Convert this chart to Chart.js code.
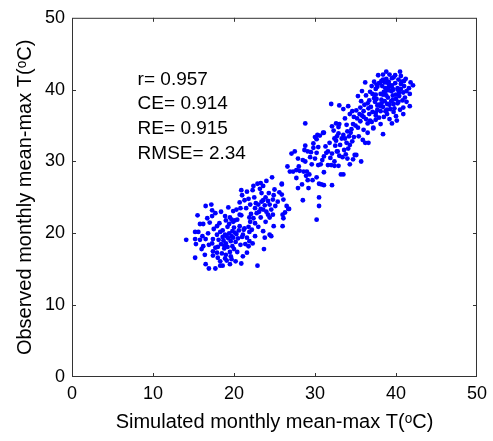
<!DOCTYPE html>
<html>
<head>
<meta charset="utf-8">
<script src="https://cdn.jsdelivr.net/npm/chart.js@4.4.1/dist/chart.umd.min.js"></script>
<style>
  body { margin: 0; background: #fff; }
  canvas { display: block; }
</style>
</head>
<body>
<canvas id="scatter" width="493" height="441"></canvas>
<script>
// simulated vs observed monthly mean-max T as [sim, obs]
var lowerCluster = [
  [14.1,19.1],[15.2,16.6],[15.2,20.2],[15.6,20.2],[15.2,19.2],[15.8,19.1],[15.3,18.5],[16.0,17.8],[16.2,18.2],[16.4,17.0],
  [15.8,21.3],[16.2,21.3],[16.5,23.8],[16.7,22.1],[17.3,23.2],[17.3,22.4],[17.7,22.8],[16.5,19.2],[17.3,18.6],[17.4,19.2],
  [17.7,18.0],[17.4,17.5],[17.4,16.9],[17.9,17.3],[18.0,16.6],[16.5,15.7],[16.9,15.1],[17.7,15.1],[18.3,15.5],[18.6,15.5],
  [19.1,16.2],[19.7,16.4],[18.3,20.2],[17.9,19.8],[18.6,20.4],[18.9,22.4],[19.0,21.8],[19.5,22.2],[19.7,21.9],[19.9,21.6],
  [20.1,21.8],[20.4,21.9],[19.9,23.1],[20.3,23.3],[20.7,24.3],[20.8,23.5],[18.7,19.0],[19.0,18.6],[19.3,19.3],[19.6,18.9],
  [19.9,19.4],[20.2,18.8],[18.9,19.8],[19.4,20.0],[19.8,20.3],[20.3,19.9],[20.6,20.4],[20.0,17.8],[19.5,17.4],[18.8,17.9],
  [18.4,18.5],[19.2,18.1],[19.0,17.0],[19.6,16.8],[18.5,17.2],[20.4,17.4],[20.8,18.4],[21.0,19.5],[20.7,21.0],[18.2,21.4],
  [17.5,20.6],[16.8,20.0],[16.1,19.6],[17.0,21.5],[17.9,21.0],[19.5,15.7],[18.9,16.5],[20.2,16.1],[21.1,16.8],[17.2,24.0],
  [15.5,22.5],[19.3,23.6],[18.4,23.0],[21.3,20.7],[20.0,20.8],[19.2,20.9],[18.6,19.5],[19.7,19.6],[20.5,19.3],[21.4,18.5],
  [20.9,15.8],[18.1,19.1],[19.1,19.6],[19.8,18.2],[18.8,18.3],[20.1,20.1],[18.0,18.1],[19.4,21.3],[16.9,18.4],[18.3,16.1],
  [24.7,27.8],[22.9,26.9],[22.4,26.6],[23.6,26.6],[23.3,27.0],[24.0,27.3],[20.9,26.0],[21.6,25.8],[22.3,26.0],[23.2,26.2],
  [23.4,25.6],[23.9,25.0],[23.6,24.6],[24.2,24.5],[23.8,23.9],[24.4,24.0],[25.6,25.7],[25.9,25.4],[26.1,24.7],[24.8,24.7],
  [25.1,23.8],[24.6,23.3],[24.2,22.6],[24.4,22.2],[24.8,22.6],[26.7,23.4],[26.3,22.9],[26.0,22.6],[26.1,22.1],[25.9,26.9],
  [26.0,21.0],[26.5,23.8],[25.9,26.8],[22.1,22.7],[21.9,22.2],[22.0,21.6],[21.8,20.9],[21.9,20.2],[21.6,19.4],[21.9,18.9],
  [21.1,19.8],[21.2,20.5],[20.9,22.5],[21.5,23.5],[22.0,24.0],[21.8,24.8],[22.5,25.0],[22.7,24.2],[21.0,25.3],[21.3,24.6],
  [24.9,21.0],[24.4,19.8],[24.6,19.6],[23.8,19.4],[23.6,20.3],[23.0,20.9],[22.6,21.4],[22.8,22.8],[23.3,23.4],[23.0,24.0],
  [22.6,23.5],[23.9,21.6],[23.3,22.2],[21.8,18.2],[21.6,17.3],[23.7,17.8],[22.9,15.5],[24.3,25.6],[25.0,26.1],[25.4,24.4],
  [24.9,25.3],[22.6,19.6],[22.3,18.6],[20.7,22.6],[23.1,23.0],[23.6,23.3],[22.4,22.1],[24.0,23.0],[23.4,24.4],[22.2,20.5]
];
var middleCluster = [
  [30.2,21.9],[30.5,23.8],[30.5,25.0],[26.8,23.4],[27.9,26.3],[29.2,26.3],[28.5,24.6],[32.1,26.7],[30.5,26.9],[30.8,26.8],
  [31.1,26.7],[26.6,29.3],[26.9,28.6],[27.3,28.6],[27.7,28.8],[28.0,29.3],[28.1,28.7],[27.7,27.7],[28.6,28.6],[29.0,28.6],
  [29.3,28.2],[28.9,28.0],[29.1,27.4],[29.7,27.4],[28.4,26.8],[30.2,27.8],[31.1,28.5],[30.4,29.5],[30.7,29.6],[29.6,29.6],
  [28.8,30.0],[28.5,30.2],[27.9,30.4],[27.1,31.1],[27.5,31.4],[28.8,32.2],[28.7,31.6],[29.1,31.4],[29.5,31.3],[29.4,30.6],
  [29.8,31.9],[30.2,31.2],[30.4,32.0],[30.2,33.1],[30.3,33.7],[30.6,33.6],[31.0,34.0],[31.3,32.1],[31.6,31.4],[32.1,31.1],
  [31.4,31.2],[31.9,30.5],[31.1,30.7],[32.4,30.0],[32.0,29.5],[32.7,31.4],[33.1,32.3],[32.5,32.2],[32.6,32.9],[32.4,33.2],
  [32.7,33.5],[32.3,34.3],[32.9,34.8],[32.6,35.3],[33.0,35.2],[33.3,33.2],[33.5,33.7],[32.9,33.9],[32.1,34.9],[31.1,34.0],
  [30.0,33.4],[29.8,32.5],[28.8,35.3],[33.2,28.2],[33.5,28.2],[34.7,30.3],[34.9,30.9],[35.7,30.0],[35.1,30.9],[33.8,31.0],
  [33.4,30.6],[33.0,30.8],[32.8,31.4],[33.6,31.6],[34.1,31.8],[34.3,32.3],[33.9,32.6],[34.6,32.8],[34.8,33.4],[34.2,33.5],
  [33.7,33.2],[34.0,34.2],[34.5,34.5],[34.7,35.2],[35.0,35.0],[35.3,34.7],[35.6,35.6],[35.2,36.0],[35.4,33.5],[35.9,33.0],
  [36.2,32.6],[36.6,32.6],[36.0,34.4],[36.5,34.0],[37.2,34.6],[36.8,35.7],[36.3,35.9],[35.8,36.4],[34.8,36.2],[34.3,36.6],
  [33.7,36.0],[33.5,37.3],[34.1,37.7],[33.0,37.8],[32.0,38.0],[34.6,37.0],[35.1,37.1],[35.6,37.5],[36.0,37.0],[32.9,29.4],
  [32.4,29.4],[31.6,29.5],[34.3,29.6],[30.9,30.2],[30.0,30.4],[31.8,32.6],[34.4,34.0],[33.9,35.1],[35.5,36.6],[34.0,30.4]
];
var upperCluster = [
  [38.8,42.5],[40.5,42.5],[42.1,40.6],[36.2,41.0],[35.8,39.8],[35.3,39.1],[38.4,41.4],[37.6,40.7],[39.5,35.3],[40.1,35.7],
  [40.9,36.6],[38.4,33.8],[37.2,34.7],[41.7,39.4],[41.3,39.8],[41.0,40.5],[41.6,40.2],[40.9,37.5],[41.7,37.7],[39.3,37.3],
  [40.5,37.2],[40.2,38.1],[40.8,38.5],[41.1,38.9],[40.0,38.7],[39.7,38.0],[39.2,37.9],[38.9,37.2],[38.7,37.0],[38.1,37.7],
  [37.7,37.2],[37.5,36.8],[37.1,36.9],[36.7,36.6],[37.4,38.3],[37.6,38.7],[38.2,38.6],[38.4,39.3],[38.8,39.2],[39.4,39.8],
  [39.6,40.1],[40.2,40.2],[40.6,40.8],[40.7,41.1],[40.3,41.4],[39.9,40.9],[39.5,40.6],[39.1,40.3],[38.7,40.2],[38.5,39.7],
  [38.1,39.4],[37.5,39.3],[37.3,38.8],[36.7,38.5],[36.5,38.1],[36.8,39.7],[37.5,40.1],[37.7,40.4],[38.3,40.5],[38.6,41.0],
  [39.1,41.1],[39.5,41.6],[39.7,41.7],[39.2,42.1],[38.8,41.5],[38.2,41.2],[37.9,40.9],[39.0,38.9],[39.6,39.2],[40.0,39.3],
  [40.4,39.6],[40.6,40.1],[38.6,38.4],[38.2,38.1],[37.8,37.9],[39.7,36.9],[40.0,36.3],[38.9,36.6],[38.5,36.2],[37.9,36.1],
  [37.5,35.8],[37.0,35.5],[36.5,35.3],[39.2,35.9],[38.1,35.2],[40.4,39.1],[40.9,39.6],[41.3,38.3],[39.8,37.4],[39.0,39.9],
  [38.1,37.0],[37.5,36.4],[36.9,37.6],[36.1,37.9],[35.7,38.4],[36.3,39.2],[37.0,40.5],[37.8,42.0],[38.4,42.1],[39.9,42.0],
  [40.2,40.0],[39.6,38.6],[38.9,38.0],[37.1,39.4],[41.8,41.0],[41.2,41.5],[40.6,41.9],[38.6,39.6],[39.1,40.8],[39.6,39.9],
  [38.0,40.9],[37.3,41.1],[38.9,41.0],[40.3,38.3],[39.4,38.4],[38.4,37.6],[37.7,37.8],[36.6,37.4],[36.0,36.2],[41.0,41.2]
];

var tickValues = [0, 10, 20, 30, 40, 50];
var statLabels = ["r= 0.957", "CE= 0.914", "RE= 0.915", "RMSE= 2.34"];
var statX = 8.1;
var statY = [40.7, 37.3, 33.8, 30.4];

var allPoints = lowerCluster.concat(middleCluster, upperCluster).map(function (p) {
  return { x: p[0], y: p[1] };
});

var fontName = "Arial, 'Liberation Sans', sans-serif";

// box around the plot with inward ticks on all four sides, like the matlab figure
var boxTicks = {
  id: "boxTicks",
  afterDraw: function (chart) {
    var ctx = chart.ctx;
    var a = chart.chartArea;
    var xs = chart.scales.x, ys = chart.scales.y;
    ctx.save();
    ctx.strokeStyle = "#333";
    ctx.lineWidth = 1;
    ctx.strokeRect(a.left + 0.5, a.top + 0.5, a.right - a.left - 1, a.bottom - a.top - 1);
    ctx.beginPath();
    for (var i = 1; i < tickValues.length - 1; i++) {
      var px = Math.round(xs.getPixelForValue(tickValues[i])) + 0.5;
      ctx.moveTo(px, a.bottom); ctx.lineTo(px, a.bottom - 4);
      ctx.moveTo(px, a.top); ctx.lineTo(px, a.top + 4);
      var py = Math.round(ys.getPixelForValue(tickValues[i])) + 0.5;
      ctx.moveTo(a.left, py); ctx.lineTo(a.left + 4, py);
      ctx.moveTo(a.right, py); ctx.lineTo(a.right - 4, py);
    }
    ctx.stroke();
    ctx.restore();
  }
};

var statsText = {
  id: "statsText",
  afterDatasetsDraw: function (chart) {
    var ctx = chart.ctx;
    ctx.save();
    ctx.font = "19px " + fontName;
    ctx.fillStyle = "#000";
    ctx.textAlign = "left";
    ctx.textBaseline = "alphabetic";
    for (var i = 0; i < statLabels.length; i++) {
      ctx.fillText(statLabels[i], chart.scales.x.getPixelForValue(statX), chart.scales.y.getPixelForValue(statY[i]));
    }
    ctx.restore();
  }
};

var ctx1 = document.getElementById("scatter");

var chart1 = new Chart(ctx1, {
  type: "scatter",
  data: {
    datasets: [{
      label: "monthly mean-max T",
      data: allPoints,
      backgroundColor: "#0000ff",
      borderWidth: 0,
      pointRadius: 2.4,
      pointHoverRadius: 2.4
    }]
  },
  options: {
    responsive: false,
    animation: false,
    layout: { padding: { left: 0, right: 16, top: 15, bottom: 0 } },
    plugins: {
      legend: { display: false },
      tooltip: { enabled: false }
    },
    scales: {
      x: {
        type: "linear",
        min: 0,
        max: 50,
        afterBuildTicks: function (scale) {
          scale.ticks = tickValues.map(function (v) { return { value: v }; });
        },
        afterFit: function (scale) { scale.height = 64; },
        grid: { display: false, drawTicks: false },
        border: { display: false },
        ticks: { color: "#000", padding: 6, maxRotation: 0, font: { family: fontName, size: 18 } },
        title: {
          display: true,
          text: "Simulated monthly mean-max T(ᵒC)",
          color: "#000",
          padding: { top: 0, bottom: 7 },
          font: { family: fontName, size: 20 }
        }
      },
      y: {
        type: "linear",
        min: 0,
        max: 50,
        afterBuildTicks: function (scale) {
          scale.ticks = tickValues.map(function (v) { return { value: v }; });
        },
        afterFit: function (scale) { scale.width = 72; },
        grid: { display: false, drawTicks: false },
        border: { display: false },
        ticks: { color: "#000", padding: 7, font: { family: fontName, size: 18 } },
        title: {
          display: true,
          text: "Observed monthly mean-max T(ᵒC)",
          color: "#000",
          padding: { top: 13, bottom: 0 },
          font: { family: fontName, size: 20 }
        }
      }
    }
  },
  plugins: [boxTicks, statsText]
});
</script>
</body>
</html>
